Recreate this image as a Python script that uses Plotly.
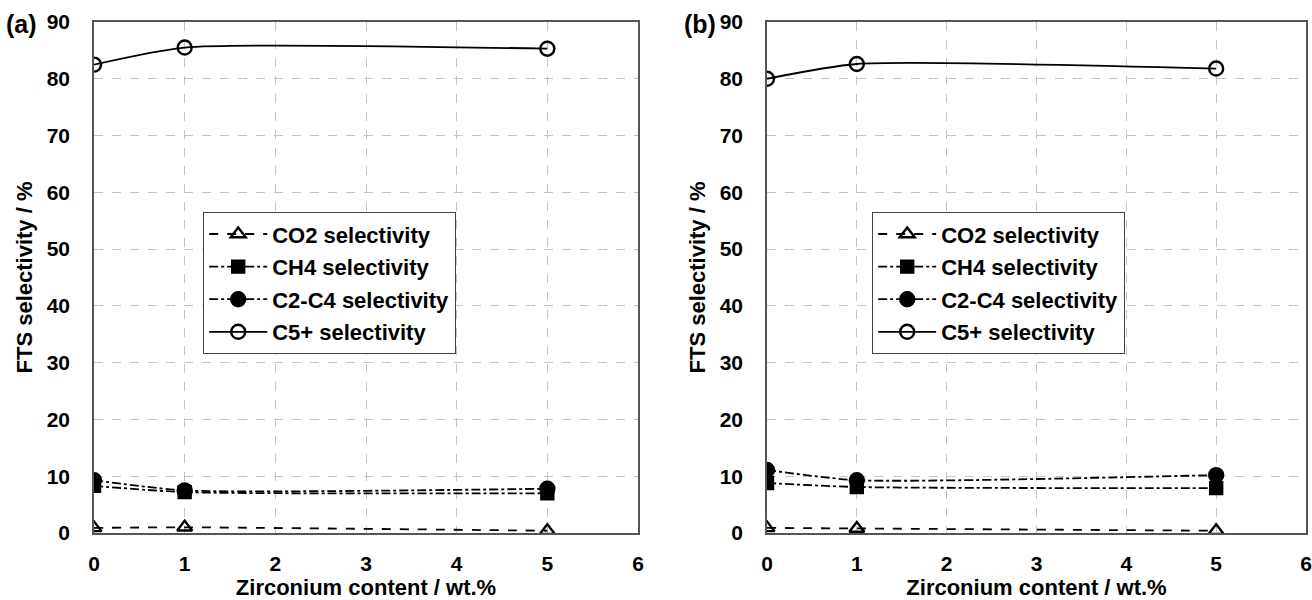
import plotly.graph_objects as go

# Zirconium loading (wt.%)
zr_content = [0, 1, 5]

# Panel (a) selectivities, %
a_co2 = [0.9, 1.0, 0.4]
a_ch4 = [8.3, 7.2, 7.0]
a_c2c4 = [9.3, 7.5, 7.8]
a_c5 = [82.5, 85.5, 85.3]

# Panel (b) selectivities, %
b_co2 = [0.9, 0.8, 0.4]
b_ch4 = [8.8, 8.1, 7.9]
b_c2c4 = [11.1, 9.3, 10.2]
b_c5 = [80.0, 82.6, 81.8]

series_names = ["CO2 selectivity", "CH4 selectivity", "C2-C4 selectivity", "C5+ selectivity"]
x_ticks = [0, 1, 2, 3, 4, 5, 6]
y_ticks = [0, 10, 20, 30, 40, 50, 60, 70, 80, 90]

FONT = "Liberation Sans, Arial, sans-serif"
styles = [
    dict(dash="dash", symbol="triangle-up-open", size=13),
    dict(dash="dashdot", symbol="square", size=12),
    dict(dash="dashdot", symbol="circle", size=14),
    dict(dash="solid", symbol="circle-open", size=14),
]

fig = go.Figure()

panels = [
    ("x", "y", "legend", [a_co2, a_ch4, a_c2c4, a_c5]),
    ("x2", "y2", "legend2", [b_co2, b_ch4, b_c2c4, b_c5]),
]
for xa, ya, leg, data in panels:
    for i, (name, vals, st) in enumerate(zip(series_names, data, styles)):
        fig.add_trace(go.Scatter(
            x=zr_content, y=vals, name=name, xaxis=xa, yaxis=ya, legend=leg,
            legendgroup=f"{leg}-{i}",
            mode="lines+markers",
            line=dict(color="black", width=1.8, dash=st["dash"], shape="spline", smoothing=0.6),
            marker=dict(symbol=st["symbol"], size=st["size"], color="black",
                        line=dict(color="black", width=2.4)),
        ))

y_dom = [67 / 600, 578 / 600]
axis_common = dict(
    showline=True, mirror=True, linecolor="#555555", linewidth=1.5,
    showgrid=True, gridcolor="#c4c4c4", gridwidth=1, griddash="dash",
    zeroline=False, ticks="", automargin=False,
    tickfont=dict(family=FONT, size=21, color="black", weight="bold"),
)
xaxis_common = dict(
    axis_common, range=[0, 6], tickvals=x_ticks, ticklabelstandoff=11,
    title=dict(text="Zirconium content / wt.%", standoff=9,
               font=dict(family=FONT, size=22, color="black", weight="bold")),
)
yaxis_common = dict(
    axis_common, range=[0, 90], tickvals=y_ticks, ticklabelstandoff=18,
    title=dict(text="FTS selectivity / %", standoff=8,
               font=dict(family=FONT, size=22, color="black", weight="bold")),
)

legend_common = dict(
    font=dict(family=FONT, size=22, color="black", weight="bold"),
    bgcolor="white", bordercolor="#444444", borderwidth=1.2,
    tracegroupgap=1, traceorder="grouped", itemwidth=58,
    xanchor="left", yanchor="top",
)

fig.update_layout(
    width=1312, height=600,
    margin=dict(l=0, r=0, t=0, b=0),
    paper_bgcolor="white", plot_bgcolor="white",
    xaxis=dict(xaxis_common, domain=[94 / 1312, 638 / 1312], anchor="y"),
    yaxis=dict(yaxis_common, domain=y_dom, anchor="x"),
    xaxis2=dict(xaxis_common, domain=[767 / 1312, 1306 / 1312], anchor="y2"),
    yaxis2=dict(yaxis_common, domain=y_dom, anchor="x2"),
    legend=dict(legend_common, x=203 / 1312, y=1 - 212 / 600),
    legend2=dict(legend_common, x=872 / 1312, y=1 - 212 / 600),
    annotations=[
        dict(text="(a)", x=4 / 1312, y=1 - 24 / 600, xref="paper", yref="paper",
             xanchor="left", yanchor="middle", showarrow=False,
             font=dict(family=FONT, size=25, color="black", weight="bold")),
        dict(text="(b)", x=682 / 1312, y=1 - 24 / 600, xref="paper", yref="paper",
             xanchor="left", yanchor="middle", showarrow=False,
             font=dict(family=FONT, size=25, color="black", weight="bold")),
    ],
)

fig.write_html("out.html")
